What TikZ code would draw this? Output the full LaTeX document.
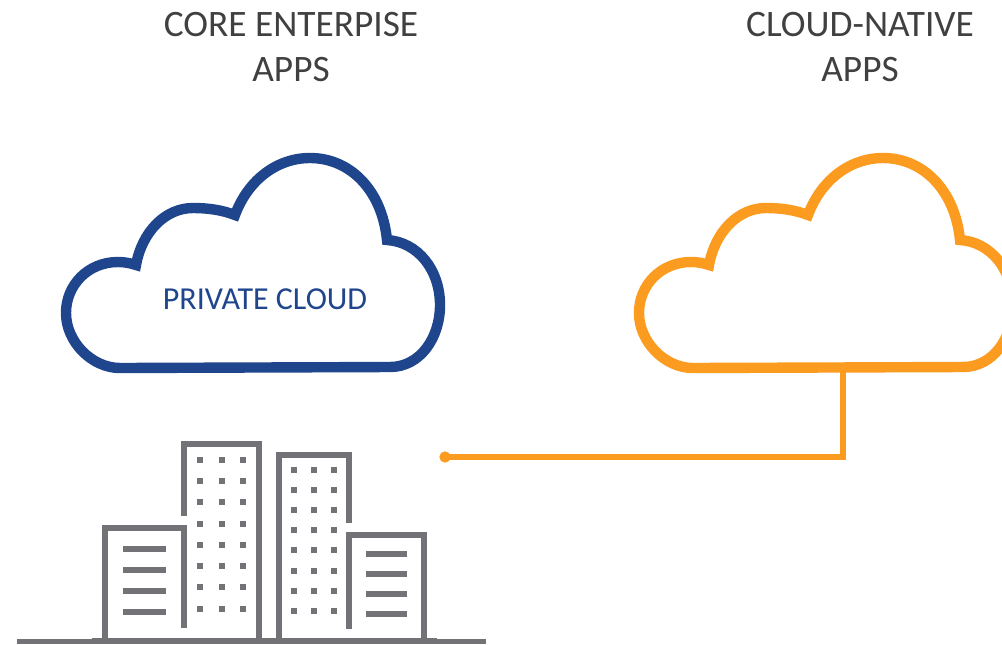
\documentclass[tikz,border=0pt]{standalone}
\usepackage{fontspec}
\setmainfont{Carlito}
\definecolor{cloudblue}{HTML}{1F458C}
\definecolor{cloudorange}{HTML}{FB9B1F}
\definecolor{towergray}{HTML}{737276}
\definecolor{titlegray}{HTML}{404040}
\tikzset{
  titletext/.style={text=titlegray,align=center,font=\fontsize{28}{33.75}\selectfont},
  cloudtext/.style={text=cloudblue,font=\fontsize{24}{28}\selectfont},
  wall/.style={draw=towergray,line width=4pt},
  floorline/.style={draw=towergray,line width=4.5pt},
  windowdot/.style={fill=towergray,inner sep=0pt,minimum size=4.5pt},
  link/.style={draw=cloudorange,line width=4pt},
  linkdot/.style={circle,fill=cloudorange,inner sep=0pt,minimum size=8.5pt},
  cloudicon/.pic={
    \draw[line width=7.8pt] (120,368) -- (390,367)
      .. controls (420,367) and (440,338) .. (440,305)
      .. controls (440,270) and (418,242) .. (387,240)
      .. controls (382,190) and (350,158) .. (310,158)
      .. controls (277,158) and (248,180) .. (235,215)
      .. controls (222,210) and (208,208) .. (193,208)
      .. controls (165,208) and (142,232) .. (136,265)
      .. controls (130,263) and (124,262) .. (118,262)
      .. controls (88,262) and (66,285) .. (66,313)
      .. controls (66,342) and (92,368) .. (120,368) -- cycle;
  }
}
\begin{document}
\begin{tikzpicture}[x=0.75pt,y=-0.75pt]
\useasboundingbox (0,0) rectangle (1002,644);
\node[titletext] (coretitle) at (291,47) {CORE ENTERPISE\\APPS};
\node[titletext] (nativetitle) at (860,47) {CLOUD-NATIVE\\APPS};
\pic[color=cloudblue] (privatecloud) at (0,0) {cloudicon};
\pic[color=cloudorange] (nativecloud) at (573,0) {cloudicon};
\node[cloudtext] (privatelabel) at (265,299) {PRIVATE CLOUD};
% connector
\coordinate (cloudfoot) at (843,369);
\node[linkdot] (linkstart) at (445,457) {};
\draw[link] (linkstart.center) -| (cloudfoot);
% buildings
\draw[wall] (184,516) -- (184,444) -- (259,444) -- (259,639);
\draw[wall] (279,639) -- (279,455) -- (349,455) -- (349,523);
\draw[wall] (105,639) -- (105,528) -- (184,528) -- (184,628);
\draw[wall] (349,629) -- (349,535) -- (424,535) -- (424,639);
\draw[draw=towergray,line width=3.75pt] (17,641.5) -- (486,641.5);
\draw[draw=towergray,line width=4.5pt] (92,641) -- (437,641);
\foreach \y in {549,570,591,612}
  \draw[floorline] (123,\y) -- (166,\y);
\foreach \y in {554,574,594,614}
  \draw[floorline] (366,\y) -- (407,\y);
\foreach \y [count=\i] in {460,481,502,524,545,566,587,609}
  \foreach \x [count=\j] in {200,222,243}
    \node[windowdot] (wa\i\j) at (\x,\y) {};
\foreach \y [count=\i] in {470,490,510,530,550,571,591,611}
  \foreach \x [count=\j] in {294,314,334}
    \node[windowdot] (wb\i\j) at (\x,\y) {};
\end{tikzpicture}
\end{document}
